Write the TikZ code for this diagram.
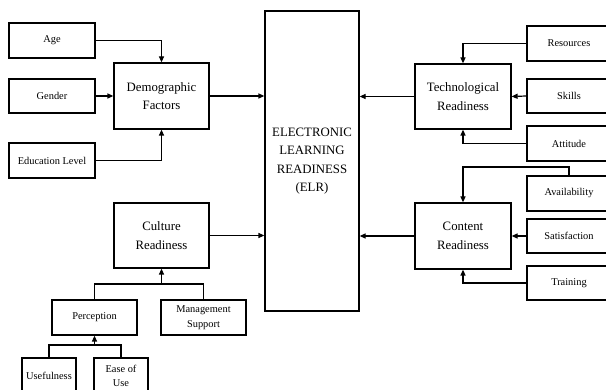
\documentclass[tikz,border=0pt]{standalone}
\usepackage{fontspec}
\setmainfont{Liberation Serif}
\usetikzlibrary{arrows.meta}
\begin{document}
\begin{tikzpicture}[x=1pt,y=-1pt,
  box/.style={draw, line width=1.2pt, inner sep=1pt, align=center},
  bigtxt/.style={font=\fontsize{12.8}{18.5}\selectfont},
  smalltxt/.style={font=\fontsize{10.4}{14.5}\selectfont},
  conn/.style={line width=1.2pt},
  arr/.style={conn, -{Triangle[length=6pt,width=5pt]}}]
\useasboundingbox (0,0) rectangle (606,390);
\clip (0,0) rectangle (606,390);
% left inputs
\node[box, smalltxt, minimum width=86pt, minimum height=35pt] (age) at (52,40.5) {Age};
\node[box, smalltxt, minimum width=86pt, minimum height=34pt] (gender) at (52,96) {Gender};
\node[box, smalltxt, minimum width=86pt, minimum height=35pt] (edu) at (52,160.5) {Education Level};
\node[box, bigtxt, minimum width=95pt, minimum height=66pt] (demo) at (161.5,96) {Demographic\\Factors};
% central
\node[box, bigtxt, minimum width=94pt, minimum height=300pt] (elr) at (312,161) {ELECTRONIC\\LEARNING\\READINESS\\(ELR)};
% right
\node[box, smalltxt, minimum width=84pt, minimum height=35pt] (res) at (569,43.5) {Resources};
\node[box, smalltxt, minimum width=84pt, minimum height=34pt] (skills) at (569,96) {Skills};
\node[box, smalltxt, minimum width=84pt, minimum height=35pt] (att) at (569,143.5) {Attitude};
\node[box, bigtxt, minimum width=96pt, minimum height=65pt] (tech) at (463,96.5) {Technological\\Readiness};
\node[box, smalltxt, minimum width=84pt, minimum height=35pt] (avail) at (569,193.5) {Availability};
\node[box, smalltxt, minimum width=84pt, minimum height=34pt] (satis) at (569,236) {Satisfaction};
\node[box, smalltxt, minimum width=84pt, minimum height=34pt] (train) at (569,283) {Training};
\node[box, bigtxt, minimum width=96pt, minimum height=66pt] (content) at (463,236) {Content\\Readiness};
% culture
\node[box, bigtxt, minimum width=95pt, minimum height=65pt] (culture) at (161.5,235.5) {Culture\\Readiness};
\node[box, smalltxt, minimum width=85pt, minimum height=35pt] (perc) at (94.5,317.5) {Perception};
\node[box, smalltxt, minimum width=85pt, minimum height=35pt] (mgmt) at (203.5,317.5) {Management\\Support};
\node[box, smalltxt, minimum width=54pt, minimum height=36pt] (useful) at (49,376) {Usefulness};
\node[box, smalltxt, minimum width=54pt, minimum height=36pt] (ease) at (121,376) {Ease of\\Use};
% connectors left
\draw[arr] (age.east) -| (demo.north);
\draw[arr] (gender.east) -- (demo.west);
\draw[arr] (edu.east) -| (demo.south);
\draw[arr] (demo.east) -- (elr.west |- demo.east);
\draw[arr] (culture.east) -- (elr.west |- culture.east);
% connectors right
\draw[arr] (res.west) -| (tech.north);
\draw[arr] (skills.west) -- (tech.east);
\draw[arr] (att.west) -| (tech.south);
\draw[arr] (tech.west) -- (elr.east |- tech.west);
\coordinate (a1) at (569,167);
\draw[arr] (avail.north) -- (a1) -| (content.north);
\draw[arr] (satis.west) -- (content.east);
\draw[arr] (train.west) -| (content.south);
\draw[arr] (content.west) -- (elr.east |- content.west);
% trees
\coordinate (j1) at (161.5,284);
\draw[conn] (perc.north) |- (j1) -| (mgmt.north);
\draw[arr] (j1) -- (culture.south);
\coordinate (j2) at (94.5,345);
\draw[conn] (useful.north) |- (j2) -| (ease.north);
\draw[arr] (j2) -- (perc.south);
\end{tikzpicture}
\end{document}
